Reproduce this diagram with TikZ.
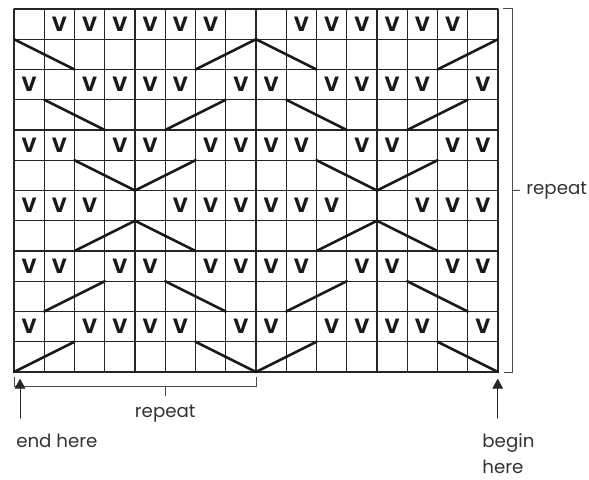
\documentclass[tikz,border=0pt]{standalone}
\usepackage{fontspec}
\setmainfont{Poppins}
\usetikzlibrary{arrows.meta}

\begin{document}
\begin{tikzpicture}[
  x=0.8cm,y=0.8cm,
  line cap=round,
  every node/.style={font=\fontsize{13.7}{19.8}\selectfont,text=black!80},
  knit/.style={font=\fontsize{15.5}{16}\selectfont\bfseries,text=black!90,inner sep=0pt},
  cellline/.style={draw=black!85,line width=0.9pt},
  slip/.style={draw=black!90,line width=1.9pt},
  brk/.style={draw=black!70,line width=0.7pt,line cap=butt},
  pointer/.style={draw=black!85,line width=0.8pt,-{Triangle[width=8pt,length=7.5pt]}}
]
  \useasboundingbox (-0.463,-3.537) rectangle (19.008,12.298);

  \draw[cellline,step=1] (0,0) grid (16,12);

  \foreach \o in {0,8} {
    \foreach \c in {2,...,7}
      \node[knit] (v1-\o-\c) at (\o+\c-0.5,11.5) {V};
    \foreach \r/\y in {3/9.5,11/1.5}
      \foreach \c in {1,3,4,5,6,8}
        \node[knit] (v\r-\o-\c) at (\o+\c-0.5,\y) {V};
    \foreach \r/\y in {5/7.5,9/3.5}
      \foreach \c in {1,2,4,5,7,8}
        \node[knit] (v\r-\o-\c) at (\o+\c-0.5,\y) {V};
    \foreach \c in {1,2,3,6,7,8}
      \node[knit] (v7-\o-\c) at (\o+\c-0.5,5.5) {V};

    \draw[slip] (\o,11) -- (\o+2,10);
    \draw[slip] (\o+6,10) -- (\o+8,11);
    \draw[slip] (\o+1,9) -- (\o+3,8);
    \draw[slip] (\o+5,8) -- (\o+7,9);
    \draw[slip] (\o+2,7) -- (\o+4,6) -- (\o+6,7);
    \draw[slip] (\o+2,4) -- (\o+4,5) -- (\o+6,4);
    \draw[slip] (\o+1,2) -- (\o+3,3);
    \draw[slip] (\o+5,3) -- (\o+7,2);
    \draw[slip] (\o,0) -- (\o+2,1);
    \draw[slip] (\o+6,1) -- (\o+8,0);
  }

  % repeat in height
  \coordinate (rtop) at (16.17,12.03);
  \coordinate (rbot) at (16.2,0);
  \coordinate (rmid) at (16.49,6);
  \node[anchor=mid west,inner sep=0pt] (reprow) at (16.93,6) {repeat};
  \draw[brk] (rtop) -| (16.49,0) -- (rbot);
  \draw[brk] (rmid) -- ([xshift=-4.5pt]reprow.west);

  % repeat in width
  \coordinate (cleft) at (0,-0.175);
  \coordinate (cright) at (8,-0.175);
  \coordinate (cmid) at (5,-0.486);
  \node[anchor=mid] (repcol) at (5,-1.39) {repeat};
  \draw[brk] (cleft) |- (8,-0.486) -- (cright);
  \draw[brk] (cmid) -- (5,-0.79);

  \node[anchor=base west] (endlbl) at (-0.08,-2.48) {end here};
  \node[anchor=base west,align=left] (beginlbl) at (15.33,-3.35) {begin\\here};
  \coordinate (endtail) at (0.2,-1.52);
  \coordinate (endtip) at (0.2,-0.22);
  \coordinate (begintail) at (15.99,-1.52);
  \coordinate (begintip) at (15.99,-0.22);
  \draw[pointer] (endtail) -- (endtip);
  \draw[pointer] (begintail) -- (begintip);
\end{tikzpicture}
\end{document}
